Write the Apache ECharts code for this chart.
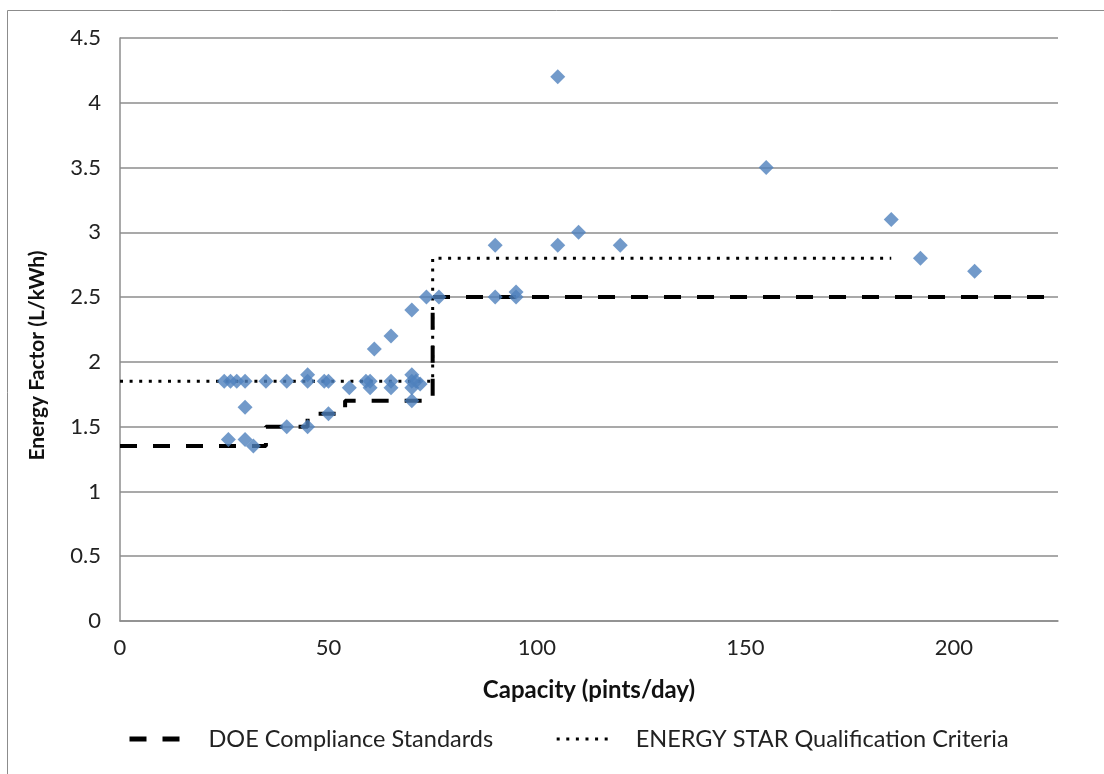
<!DOCTYPE html>
<html>
<head>
<meta charset="utf-8">
<script src="https://cdn.jsdelivr.net/npm/echarts@6/dist/echarts.min.js"></script>
<style>
  html, body { margin: 0; padding: 0; background: #fff; }
  #chart { width: 1104px; height: 774px; }
</style>
</head>
<body>
<div id="chart"></div>
<script>
// measured units (capacity in pints/day, energy factor in L/kWh)
var unitCapacity = [25, 26.5, 28, 30, 35, 40, 45, 49, 50, 59, 60, 65, 70, 71, 72,
  45, 70, 55, 60, 65, 70, 70, 30, 50, 40, 45, 26, 30, 32,
  61, 65, 70, 73.5, 76.5, 90, 95, 95, 90, 105, 110, 120, 105, 155, 185, 192, 205];
var unitFactor = [1.85, 1.85, 1.85, 1.85, 1.85, 1.85, 1.85, 1.85, 1.85, 1.85, 1.85, 1.85, 1.85, 1.85, 1.83,
  1.9, 1.9, 1.8, 1.8, 1.8, 1.8, 1.7, 1.65, 1.6, 1.5, 1.5, 1.4, 1.4, 1.35,
  2.1, 2.2, 2.4, 2.5, 2.5, 2.5, 2.5, 2.54, 2.9, 2.9, 3.0, 2.9, 4.2, 3.5, 3.1, 2.8, 2.7];

// DOE standard steps (start of each capacity bracket)
var doeCapacity = [0, 35, 45, 54, 75, 225];
var doeFactor = [1.35, 1.5, 1.6, 1.7, 2.5, 2.5];

// ENERGY STAR criteria steps
var esCapacity = [0, 75, 185];
var esFactor = [1.85, 2.8, 2.8];

var xTicks = [0, 50, 100, 150, 200];

function pairs(xs, ys) {
  return xs.map(function (x, i) { return [x, ys[i]]; });
}

var font = 'Lato';
var chart = echarts.init(document.getElementById('chart'));
var option = {
  animation: false,
  backgroundColor: '#fff',
  textStyle: { fontFamily: font },
  grid: { left: 120, right: 46, top: 38, bottom: 153 },
  graphic: [{
    type: 'rect',
    shape: { x: 7.5, y: 10.5, width: 1120, height: 800 },
    style: { fill: 'none', stroke: '#8c8c8c', lineWidth: 1 },
    silent: true
  }],
  legend: {
    bottom: 18,
    left: 122,
    itemWidth: 52,
    itemHeight: 14,
    itemGap: 62,
    data: [
      { name: 'DOE Compliance Standards', lineStyle: { width: 5 } },
      { name: 'ENERGY STAR Qualification Criteria', lineStyle: { width: 3 } }
    ],
    itemStyle: { opacity: 0 },
    textStyle: { fontFamily: font, fontSize: 23.5, color: '#222', padding: [0, 0, 0, 22] }
  },
  xAxis: {
    type: 'value',
    min: 0,
    max: 225,
    interval: 50,
    name: 'Capacity (pints/day)',
    nameLocation: 'middle',
    nameGap: 57,
    nameTextStyle: { fontFamily: font, fontSize: 24, fontWeight: 'bold', color: '#111' },
    axisLine: { lineStyle: { color: '#8c8c8c', width: 1.5 } },
    axisTick: { show: false },
    splitLine: { show: false },
    axisLabel: {
      fontSize: 22, color: '#222', margin: 16,
      formatter: function (v) { return xTicks.indexOf(v) >= 0 ? String(v) : ''; }
    }
  },
  yAxis: {
    type: 'value',
    min: 0,
    max: 4.5,
    interval: 0.5,
    name: 'Energy Factor (L/kWh)',
    nameLocation: 'middle',
    nameGap: 72,
    nameTextStyle: { fontFamily: font, fontSize: 21, fontWeight: 'bold', color: '#111', padding: [0, 52, 0, 0] },
    axisLine: { show: true, lineStyle: { color: '#8c8c8c', width: 1.5 } },
    axisTick: { show: false },
    splitLine: { lineStyle: { color: '#8c8c8c', width: 1.5 } },
    axisLabel: { fontSize: 22, color: '#222', margin: 19 }
  },
  series: [
    {
      name: 'units',
      type: 'scatter',
      symbol: 'diamond',
      symbolSize: 15,
      itemStyle: { color: '#4f81bd' },
      data: pairs(unitCapacity, unitFactor),
      z: 3
    },
    {
      name: 'DOE Compliance Standards',
      type: 'line',
      step: 'end',
      symbol: 'none',
      itemStyle: { color: '#000' },
      lineStyle: { color: '#000', width: 4, type: [17, 16] },
      data: pairs(doeCapacity, doeFactor),
      z: 2
    },
    {
      name: 'ENERGY STAR Qualification Criteria',
      type: 'line',
      step: 'end',
      symbol: 'none',
      itemStyle: { color: '#000' },
      lineStyle: { color: '#000', width: 3, type: [3, 6.6] },
      data: pairs(esCapacity, esFactor),
      z: 2
    }
  ]
};
chart.setOption(option);
</script>
</body>
</html>
